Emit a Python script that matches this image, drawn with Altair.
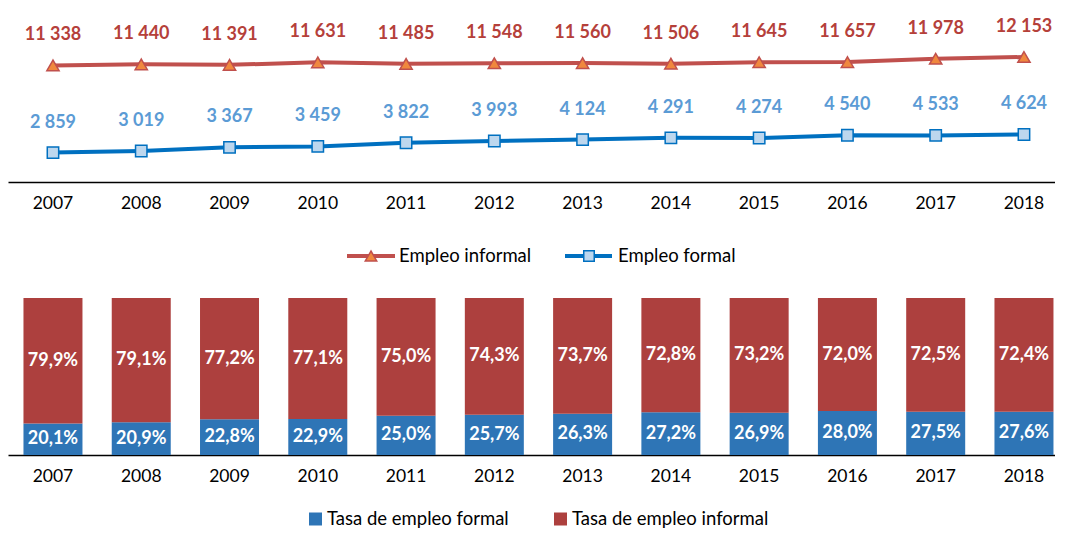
import altair as alt
import pandas as pd

years = ["2007", "2008", "2009", "2010", "2011", "2012", "2013", "2014", "2015", "2016", "2017", "2018"]
informal = [11338, 11440, 11391, 11631, 11485, 11548, 11560, 11506, 11645, 11657, 11978, 12153]
formal = [2859, 3019, 3367, 3459, 3822, 3993, 4124, 4291, 4274, 4540, 4533, 4624]
pct_formal = [20.1, 20.9, 22.8, 22.9, 25.0, 25.7, 26.3, 27.2, 26.9, 28.0, 27.5, 27.6]
pct_informal = [79.9, 79.1, 77.2, 77.1, 75.0, 74.3, 73.7, 72.8, 73.2, 72.0, 72.5, 72.4]

FONT = "Lato"
W = 1047

def fmt_thousands(v):
    return f"{v:,}".replace(",", " ")

def fmt_pct(v):
    return f"{v:.1f}".replace(".", ",") + "%"

xscale = alt.Scale(type="band", paddingInner=0.3316, paddingOuter=0.0963, align=0.91)
xaxis = alt.Axis(title=None, labelAngle=0, ticks=False, domainColor="black", domainWidth=1.5,
                 labelFontSize=17.5, labelColor="black", labelFont=FONT, labelPadding=12, grid=False)

# ---------- top line chart ----------
ydom = alt.Scale(domain=[0, 16917], nice=False, zero=True)

def series_layers(values, line_color, label_color, shape, fill, size):
    df = pd.DataFrame({"year": years, "value": values, "label": [fmt_thousands(v) for v in values]})
    base = alt.Chart(df).encode(
        x=alt.X("year:N", scale=xscale, axis=xaxis, sort=years),
        y=alt.Y("value:Q", scale=ydom, axis=None),
    )
    line = base.mark_line(color=line_color, strokeWidth=4)
    pts = base.mark_point(shape=shape, filled=True, fill=fill, stroke=line_color, strokeWidth=1.5,
                          size=size, opacity=1)
    txt = base.mark_text(dy=-30, font=FONT, fontSize=18, fontWeight="bold", color=label_color,
                         baseline="middle").encode(text="label:N")
    return [line, pts, txt]

top = alt.layer(
    *series_layers(informal, "#C0504D", "#B5403A", "triangle-up", "#F0883E", 150),
    *series_layers(formal, "#0070C0", "#5B9BD5", "square", "#BDD7EE", 130),
).properties(width=W, height=174)

# ---------- legend 1 ----------
leg1_df = pd.DataFrame({"label": ["Empleo informal", "Empleo formal"]})
def one(df, i):
    return df.iloc[[i]]

LEGFS = 18.5
L1y = 74
leg1 = alt.layer(
    alt.Chart(one(leg1_df, 0)).mark_rule(color="#C0504D", strokeWidth=4).encode(
        x=alt.value(339), x2=alt.value(387), y=alt.value(L1y)),
    alt.Chart(one(leg1_df, 0)).mark_point(shape="triangle-up", filled=True, fill="#F0883E",
                                          stroke="#C0504D", strokeWidth=1.5, size=130, opacity=1).encode(
        x=alt.value(363), y=alt.value(L1y)),
    alt.Chart(one(leg1_df, 0)).mark_text(align="left", baseline="middle", font=FONT, fontSize=LEGFS,
                                         color="black").encode(
        x=alt.value(391), y=alt.value(L1y), text="label:N"),
    alt.Chart(one(leg1_df, 1)).mark_rule(color="#0070C0", strokeWidth=4).encode(
        x=alt.value(557), x2=alt.value(604), y=alt.value(L1y)),
    alt.Chart(one(leg1_df, 1)).mark_point(shape="square", filled=True, fill="#BDD7EE",
                                          stroke="#0070C0", strokeWidth=1.5, size=110, opacity=1).encode(
        x=alt.value(581), y=alt.value(L1y)),
    alt.Chart(one(leg1_df, 1)).mark_text(align="left", baseline="middle", font=FONT, fontSize=LEGFS,
                                         color="black").encode(
        x=alt.value(610), y=alt.value(L1y), text="label:N"),
).properties(width=W, height=116)

# ---------- bar chart ----------
series_names = ["Tasa de empleo formal", "Tasa de empleo informal"]
bar_df = pd.DataFrame({
    "year": years * 2,
    "series": [series_names[0]] * len(years) + [series_names[1]] * len(years),
    "order": [0] * len(years) + [1] * len(years),
    "pct": pct_formal + pct_informal,
    "label": [fmt_pct(v) for v in pct_formal] + [fmt_pct(v) for v in pct_informal],
})

bar_base = alt.Chart(bar_df).transform_stack(
    stack="pct", as_=["y0", "y1"], groupby=["year"], sort=[alt.SortField("order", order="ascending")],
    offset="normalize",
).transform_calculate(mid="(datum.y0 + datum.y1) / 2")

bars = bar_base.mark_bar().encode(
    x=alt.X("year:N", scale=xscale, axis=xaxis, sort=years),
    y=alt.Y("y0:Q", scale=alt.Scale(domain=[0, 1], nice=False), axis=None),
    y2="y1:Q",
    color=alt.Color("series:N", scale=alt.Scale(domain=series_names, range=["#2E75B6", "#AD403E"]),
                    legend=None),
)
bar_txt = bar_base.mark_text(font=FONT, fontSize=18, fontWeight="bold", color="white",
                             baseline="middle").encode(
    x=alt.X("year:N", scale=xscale, axis=xaxis, sort=years),
    y=alt.Y("mid:Q", scale=alt.Scale(domain=[0, 1], nice=False), axis=None),
    text="label:N",
)
bottom = alt.layer(bars, bar_txt).properties(width=W, height=157)

# ---------- legend 2 ----------
leg2_df = pd.DataFrame({"label": series_names})
L2y = 64
leg2 = alt.layer(
    alt.Chart(one(leg2_df, 0)).mark_square(color="#2E75B6", size=169, opacity=1).encode(
        x=alt.value(307.5), y=alt.value(L2y)),
    alt.Chart(one(leg2_df, 0)).mark_text(align="left", baseline="middle", font=FONT, fontSize=LEGFS,
                                         color="black").encode(
        x=alt.value(319), y=alt.value(L2y), text="label:N"),
    alt.Chart(one(leg2_df, 1)).mark_square(color="#AD403E", size=169, opacity=1).encode(
        x=alt.value(552.5), y=alt.value(L2y)),
    alt.Chart(one(leg2_df, 1)).mark_text(align="left", baseline="middle", font=FONT, fontSize=LEGFS,
                                         color="black").encode(
        x=alt.value(564), y=alt.value(L2y), text="label:N"),
).properties(width=W, height=64)

chart = alt.vconcat(top, leg1, bottom, leg2, spacing=0, bounds="flush").properties(
    padding={"left": 0, "top": 0, "right": 0, "bottom": 0}
).configure(font=FONT, background="white").configure_view(strokeWidth=0, stroke="transparent")

chart.save("out.html", embed_options={"renderer": "svg", "actions": False})
